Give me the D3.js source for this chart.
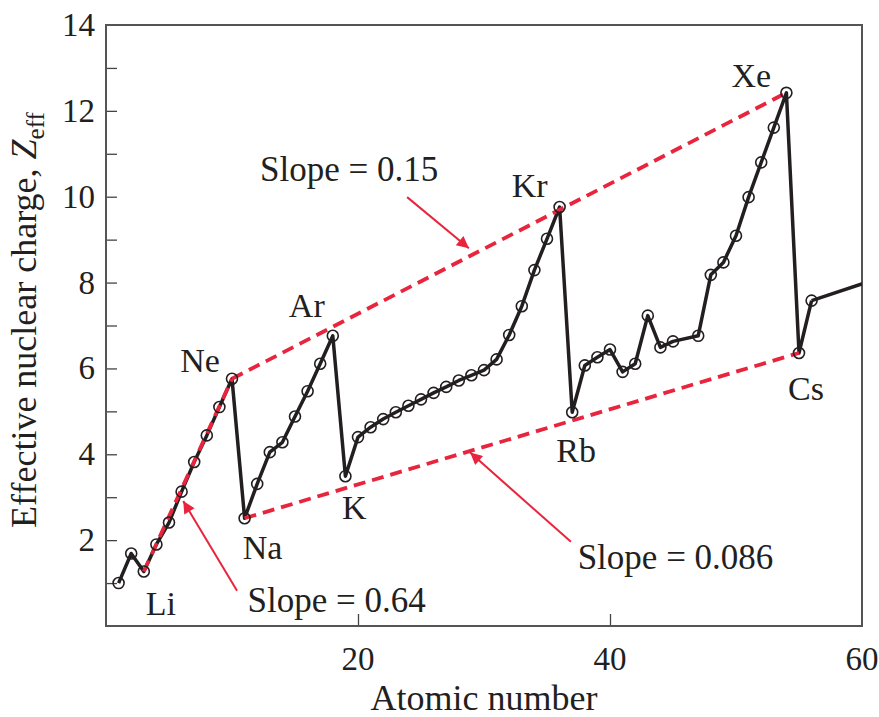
<!DOCTYPE html>
<html>
<head>
<meta charset="utf-8">
<script src="https://cdn.jsdelivr.net/npm/d3@7"></script>
<style>
  html, body { margin: 0; padding: 0; background: #fff; }
</style>
</head>
<body>
<div id="chart"></div>
<script>
(function() {
  'use strict';

  // atomic numbers (Pd, 46, is not plotted) and effective nuclear charge
  var atomicNumbers = [1, 2, 3, 4, 5, 6, 7, 8, 9, 10,
    11, 12, 13, 14, 15, 16, 17, 18,
    19, 20, 21, 22, 23, 24, 25, 26, 27, 28, 29, 30, 31, 32, 33, 34, 35, 36,
    37, 38, 39, 40, 41, 42, 43, 44, 45, 47, 48, 49, 50, 51, 52, 53, 54,
    55, 56];
  var zeffValues = [1.00, 1.69, 1.27, 1.90, 2.41, 3.13, 3.82, 4.44, 5.10, 5.76,
    2.51, 3.31, 4.05, 4.28, 4.88, 5.47, 6.11, 6.76,
    3.49, 4.40, 4.63, 4.82, 4.98, 5.13, 5.28, 5.43, 5.57, 5.72, 5.84, 5.96, 6.21, 6.78, 7.45, 8.29, 9.02, 9.76,
    4.98, 6.07, 6.26, 6.44, 5.92, 6.11, 7.23, 6.49, 6.63, 6.76, 8.18, 8.47, 9.09, 9.99, 10.80, 11.61, 12.42,
    6.36, 7.58];
  // curve keeps going past Ba without markers
  var tailNumbers = [56, 60.1];
  var tailValues = [7.58, 7.98];

  var labelElements = ['Li', 'Ne', 'Na', 'Ar', 'K', 'Kr', 'Rb', 'Xe', 'Cs'];
  var labelNumbers = [3, 10, 11, 18, 19, 36, 37, 54, 55];

  // slope lines: start and end atomic number
  var slopeStarts = [3, 10, 11];
  var slopeEnds = [10, 54, 55];
  var slopeTexts = ['Slope = 0.64', 'Slope = 0.15', 'Slope = 0.086'];

  var xTickValues = [20, 40, 60];
  var yTickValues = [2, 4, 6, 8, 10, 12, 14];

  var width = 879, height = 717;
  var margin = { top: 25, right: 17, bottom: 91, left: 106 };
  var red = '#e8253d';
  var ink = '#231f20';

  // pick the first serif face the machine really has
  function pickSerif() {
    var ctx = document.createElement('canvas').getContext('2d');
    var sample = 'Effective nuclear charge Slope 0.086 WMil';
    function w(f) { ctx.font = '40px ' + f; return ctx.measureText(sample).width; }
    var mono = w('monospace'), sans = w('sans-serif');
    var names = ['Liberation Serif', 'Times New Roman', 'Tinos', 'Nimbus Roman',
      'FreeSerif', 'DejaVu Serif', 'Noto Serif'];
    for (var i = 0; i < names.length; i++) {
      var a = w('"' + names[i] + '", monospace'), b = w('"' + names[i] + '", sans-serif');
      if (a === b && a !== mono) return '"' + names[i] + '"';
    }
    return 'serif';
  }
  var serif = pickSerif();

  var svg = d3.select('#chart').append('svg')
    .attr('width', width)
    .attr('height', height)
    .style('font-family', serif);

  var x = d3.scaleLinear().domain([0, 60]).range([margin.left, width - margin.right]);
  var y = d3.scaleLinear().domain([0, 14]).range([height - margin.bottom, margin.top]);

  var points = atomicNumbers.map(function(z, i) { return { z: z, v: zeffValues[i] }; });
  var byZ = {};
  points.forEach(function(p) { byZ[p.z] = p; });

  svg.append('defs').append('marker')
    .attr('id', 'arrowhead')
    .attr('viewBox', '0 0 10 10')
    .attr('refX', 10)
    .attr('refY', 5)
    .attr('markerUnits', 'userSpaceOnUse')
    .attr('markerWidth', 17)
    .attr('markerHeight', 12)
    .attr('orient', 'auto')
    .append('path')
    .attr('d', 'M0,0 L10,5 L0,10 Z')
    .attr('fill', red);

  var plot = svg.append('g');

  // ticks, drawn inward
  var yAxis = d3.axisLeft(y).tickValues(d3.range(1, 14)).tickSize(-11).tickFormat('');
  plot.append('g')
    .attr('transform', 'translate(' + margin.left + ',0)')
    .call(yAxis)
    .call(function(g) {
      g.select('.domain').remove();
      g.selectAll('line').attr('stroke', '#444').attr('stroke-width', 1.3);
    });

  var xAxis = d3.axisBottom(x).tickValues([20, 40]).tickSize(-12).tickFormat('');
  plot.append('g')
    .attr('transform', 'translate(0,' + y(0) + ')')
    .call(xAxis)
    .call(function(g) {
      g.select('.domain').remove();
      g.selectAll('line').attr('stroke', '#444').attr('stroke-width', 1.3);
    });

  // frame
  plot.append('rect')
    .attr('x', x(0))
    .attr('y', y(14))
    .attr('width', x(60) - x(0))
    .attr('height', y(0) - y(14))
    .attr('fill', 'none')
    .attr('stroke', '#555')
    .attr('stroke-width', 2);

  // tick labels
  svg.append('g').selectAll('text')
    .data(yTickValues)
    .enter().append('text')
    .attr('x', margin.left - 11)
    .attr('y', function(d) { return y(d) + 11; })
    .attr('text-anchor', 'end')
    .attr('font-size', 33)
    .attr('fill', ink)
    .text(function(d) { return d; });

  svg.append('g').selectAll('text')
    .data(xTickValues)
    .enter().append('text')
    .attr('x', function(d) { return x(d); })
    .attr('y', y(0) + 44)
    .attr('text-anchor', 'middle')
    .attr('font-size', 33)
    .attr('fill', ink)
    .text(function(d) { return d; });

  // axis titles
  svg.append('text')
    .attr('x', (x(0) + x(60)) / 2)
    .attr('y', height - 7)
    .attr('text-anchor', 'middle')
    .attr('font-size', 36)
    .attr('fill', ink)
    .text('Atomic number');

  var yTitle = svg.append('text')
    .attr('transform', 'translate(36,' + 320 + ') rotate(-90)')
    .attr('text-anchor', 'middle')
    .attr('font-size', 36)
    .attr('fill', ink);
  yTitle.append('tspan').text('Effective nuclear charge, ');
  yTitle.append('tspan').attr('font-style', 'italic').text('Z');
  yTitle.append('tspan').attr('font-size', 25).attr('dy', 8).text('eff');

  var line = d3.line()
    .x(function(d) { return x(d.z); })
    .y(function(d) { return y(d.v); });

  svg.append('clipPath').attr('id', 'plot-clip')
    .append('rect')
    .attr('x', x(0)).attr('y', y(14))
    .attr('width', x(60) - x(0)).attr('height', y(0) - y(14));

  var series = svg.append('g').attr('clip-path', 'url(#plot-clip)');

  series.append('path')
    .datum(points)
    .attr('d', line)
    .attr('fill', 'none')
    .attr('stroke', ink)
    .attr('stroke-width', 3.5)
    .attr('stroke-linejoin', 'round');

  series.append('path')
    .datum(tailNumbers.map(function(z, i) { return { z: z, v: tailValues[i] }; }))
    .attr('d', line)
    .attr('fill', 'none')
    .attr('stroke', ink)
    .attr('stroke-width', 3.5);

  // red dashed envelope lines
  series.selectAll('.slope')
    .data(slopeStarts)
    .enter().append('path')
    .attr('class', 'slope')
    .attr('d', function(d, i) { return line([byZ[d], byZ[slopeEnds[i]]]); })
    .attr('fill', 'none')
    .attr('stroke', red)
    .attr('stroke-width', 3.8)
    .attr('stroke-dasharray', '12,7');

  series.selectAll('circle')
    .data(points)
    .enter().append('circle')
    .attr('cx', function(d) { return x(d.z); })
    .attr('cy', function(d) { return y(d.v); })
    .attr('r', 5.5)
    .attr('fill', 'none')
    .attr('stroke', ink)
    .attr('stroke-width', 1.6);

  // element labels, offsets in px from the point
  var labelOffsets = {
    Li: [17, 44], Ne: [-32, -7], Na: [18, 41], Ar: [-26, -19], K: [9, 43],
    Kr: [-30, -10], Rb: [4, 50], Xe: [-35, -6], Cs: [7, 47]
  };
  svg.append('g').selectAll('text')
    .data(labelElements)
    .enter().append('text')
    .attr('x', function(d, i) { return x(labelNumbers[i]) + labelOffsets[d][0]; })
    .attr('y', function(d, i) { return y(byZ[labelNumbers[i]].v) + labelOffsets[d][1]; })
    .attr('text-anchor', 'middle')
    .attr('font-size', 34)
    .attr('fill', ink)
    .text(function(d) { return d; });

  // slope annotations (data units) and their arrows
  var slopeTextX = [18.3, 19.3, 45.2];
  var slopeTextY = [0.33, 10.37, 1.33];
  var arrowFrom = [[10.4, 0.82], [23.9, 9.99], [36.9, 1.96]];
  var arrowTo = [[6.13, 2.91], [28.8, 8.8], [28.9, 4.04]];

  svg.append('g').selectAll('text')
    .data(slopeTexts)
    .enter().append('text')
    .attr('x', function(d, i) { return x(slopeTextX[i]); })
    .attr('y', function(d, i) { return y(slopeTextY[i]); })
    .attr('text-anchor', 'middle')
    .attr('font-size', 35)
    .attr('fill', ink)
    .text(function(d) { return d; });

  svg.append('g').selectAll('line')
    .data(arrowFrom)
    .enter().append('line')
    .attr('x1', function(d) { return x(d[0]); })
    .attr('y1', function(d) { return y(d[1]); })
    .attr('x2', function(d, i) { return x(arrowTo[i][0]); })
    .attr('y2', function(d, i) { return y(arrowTo[i][1]); })
    .attr('stroke', red)
    .attr('stroke-width', 2)
    .attr('marker-end', 'url(#arrowhead)');
})();
</script>
</body>
</html>
